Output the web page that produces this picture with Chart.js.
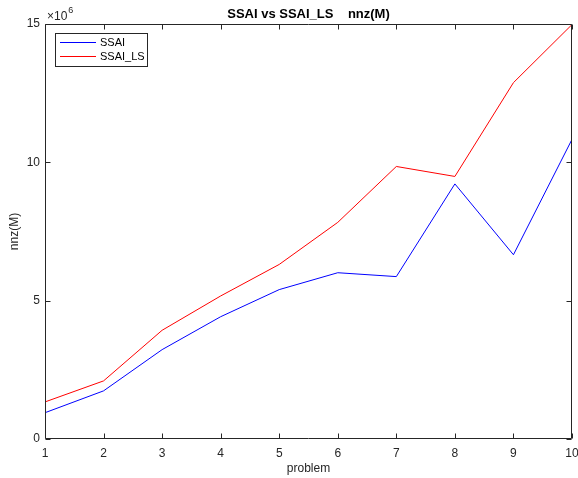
<!DOCTYPE html>
<html>
<head>
<meta charset="utf-8">
<script src="https://cdn.jsdelivr.net/npm/chart.js@4"></script>
<style>
html,body{margin:0;padding:0;background:#fff;}
#c{display:block;}
</style>
</head>
<body>
<canvas id="c" width="578" height="478"></canvas>
<script>
// Data (values in units of 1e6)
const problems = [1, 2, 3, 4, 5, 6, 7, 8, 9, 10];
const ssai    = [0.95, 1.74, 3.23, 4.42, 5.40, 6.01, 5.87, 9.22, 6.66, 10.83];
const ssaiLS  = [1.34, 2.10, 3.93, 5.17, 6.31, 7.83, 9.85, 9.49, 12.88, 14.98];
const yTicks  = [0, 5, 10, 15];
const xTicks  = [1, 2, 3, 4, 5, 6, 7, 8, 9, 10];
const seriesNames = ['SSAI', 'SSAI_LS'];
const titleText = 'SSAI vs SSAI_LS    nnz(M)';
const xTitle = 'problem';
const yTitle = 'nnz(M)';
const exponent = '6';

const FONT = 'Liberation Sans, Arial, Helvetica, sans-serif';
const AX = '#262626';

const toPts = arr => arr.map((v, i) => ({x: problems[i], y: v}));

const decor = {
  id: 'decor',
  afterDatasetsDraw(chart) {
    const ctx = chart.ctx;
    const a = chart.chartArea;
    const xs = chart.scales.x, ys = chart.scales.y;
    ctx.save();
    // box
    ctx.strokeStyle = AX;
    ctx.lineWidth = 1;
    const L = Math.round(a.left) + 0.5, R = Math.round(a.right) - 0.5;
    const T = Math.round(a.top) + 0.5, B = Math.round(a.bottom) - 0.5;
    ctx.beginPath();
    ctx.rect(L, T, R - L, B - T);
    ctx.stroke();
    // ticks inward
    ctx.beginPath();
    xTicks.forEach(v => {
      const px = Math.round(xs.getPixelForValue(v)) + 0.5;
      ctx.moveTo(px, B); ctx.lineTo(px, B - 5);
      ctx.moveTo(px, T); ctx.lineTo(px, T + 5);
    });
    yTicks.forEach(v => {
      const py = Math.round(ys.getPixelForValue(v)) + 0.5;
      ctx.moveTo(L, py); ctx.lineTo(L + 5, py);
      ctx.moveTo(R, py); ctx.lineTo(R - 5, py);
    });
    ctx.stroke();

    // title
    ctx.fillStyle = '#000';
    ctx.font = 'bold 13px ' + FONT;
    ctx.textAlign = 'center';
    ctx.textBaseline = 'middle';
    ctx.fillText(titleText, (a.left + a.right) / 2, 14);

    // exponent label
    ctx.fillStyle = AX;
    ctx.font = '12px ' + FONT;
    ctx.textAlign = 'left';
    ctx.textBaseline = 'alphabetic';
    ctx.fillText('\u00d710', a.left + 2, 20);
    const w = ctx.measureText('\u00d710').width;
    ctx.font = '9px ' + FONT;
    ctx.fillText(exponent, a.left + 3 + w, 13);

    // axis titles
    ctx.font = '12px ' + FONT;
    ctx.textAlign = 'center';
    ctx.textBaseline = 'middle';
    ctx.fillText(xTitle, (a.left + a.right) / 2, 469);
    ctx.save();
    ctx.translate(15, (a.top + a.bottom) / 2);
    ctx.rotate(-Math.PI / 2);
    ctx.fillText(yTitle, 0, 0);
    ctx.restore();

    // legend
    const lx = 55.5, ly = 33.5, lw = 92, lh = 33;
    ctx.fillStyle = '#fff';
    ctx.fillRect(lx, ly, lw, lh);
    ctx.strokeStyle = AX;
    ctx.lineWidth = 1;
    ctx.strokeRect(lx, ly, lw, lh);
    chart.data.datasets.forEach((ds, i) => {
      const yy = 42.5 + i * 14;
      ctx.strokeStyle = ds.borderColor;
      ctx.beginPath();
      ctx.moveTo(60, yy); ctx.lineTo(96, yy);
      ctx.stroke();
      ctx.fillStyle = '#000';
      ctx.font = '11px ' + FONT;
      ctx.textAlign = 'left';
      ctx.textBaseline = 'middle';
      ctx.fillText(ds.label, 100, yy + 0.5);
    });
    ctx.restore();
  }
};

new Chart(document.getElementById('c'), {
  type: 'line',
  data: {
    datasets: [
      {label: seriesNames[0], data: toPts(ssai), borderColor: '#0000ff', borderWidth: 1, pointRadius: 0, tension: 0, fill: false},
      {label: seriesNames[1], data: toPts(ssaiLS), borderColor: '#ff0000', borderWidth: 1, pointRadius: 0, tension: 0, fill: false}
    ]
  },
  options: {
    responsive: false,
    animation: false,
    events: [],
    layout: {padding: {top: 24, right: 6, left: 0, bottom: 0}},
    plugins: {legend: {display: false}, title: {display: false}, tooltip: {enabled: false}},
    scales: {
      x: {
        type: 'linear', min: 1, max: 10,
        grid: {display: false, drawTicks: false},
        border: {display: false},
        afterBuildTicks: s => { s.ticks = xTicks.map(v => ({value: v})); },
        afterFit: s => { s.height = 39; s.paddingLeft = 0; s.paddingRight = 0; },
        ticks: {color: AX, font: {family: FONT, size: 12}, padding: 7, maxRotation: 0, autoSkip: false}
      },
      y: {
        type: 'linear', min: 0, max: 15,
        grid: {display: false, drawTicks: false},
        border: {display: false},
        afterBuildTicks: s => { s.ticks = yTicks.map(v => ({value: v})); },
        afterFit: s => { s.width = 45; s.paddingTop = 0; s.paddingBottom = 0; },
        ticks: {color: AX, font: {family: FONT, size: 12}, padding: 5}
      }
    }
  },
  plugins: [decor]
});
</script>
</body>
</html>
